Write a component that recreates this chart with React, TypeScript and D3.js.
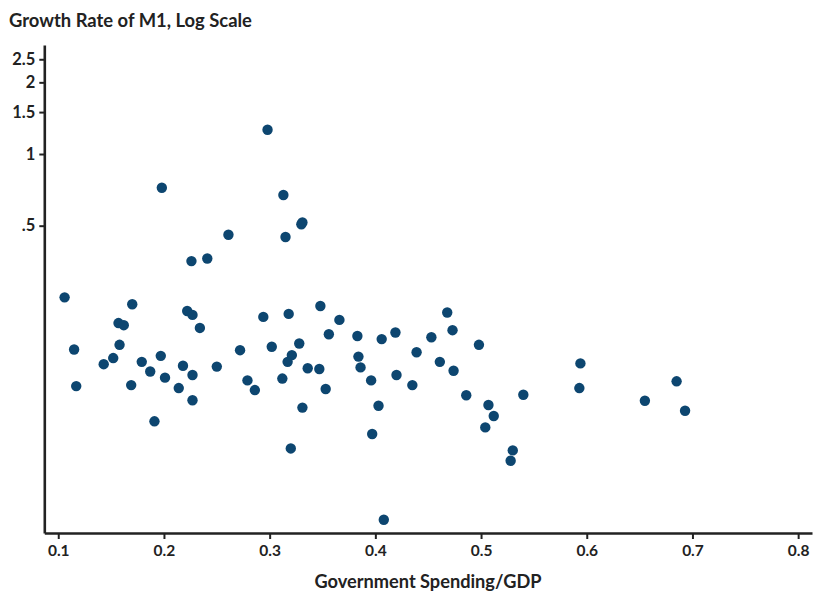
import React, { useRef, useEffect } from 'react';
import * as d3 from 'd3';

// Government spending / GDP (x) vs growth rate of M1 (y, log scale)
const govSpending = [
  0.106, 0.115, 0.117, 0.143, 0.152, 0.158, 0.157, 0.162, 0.170, 0.169,
  0.179, 0.187, 0.197, 0.201, 0.191, 0.214, 0.218, 0.227, 0.227, 0.222,
  0.227, 0.234, 0.226, 0.241, 0.250, 0.272, 0.279, 0.286, 0.294, 0.302,
  0.318, 0.312, 0.321, 0.317, 0.320, 0.328, 0.331, 0.336, 0.347, 0.348,
  0.366, 0.356, 0.353, 0.383, 0.384, 0.386, 0.396, 0.403, 0.397, 0.408,
  0.406, 0.419, 0.420, 0.439, 0.435, 0.453, 0.461, 0.468, 0.473, 0.474,
  0.498, 0.486, 0.507, 0.512, 0.504, 0.530, 0.528, 0.540, 0.594, 0.593,
  0.655, 0.685, 0.693, 0.298, 0.198, 0.313, 0.330, 0.331, 0.315, 0.261,
];
const m1Growth = [
  0.250, 0.151, 0.106, 0.131, 0.139, 0.158, 0.195, 0.191, 0.234, 0.107,
  0.134, 0.122, 0.142, 0.115, 0.0754, 0.104, 0.129, 0.118, 0.0924, 0.219,
  0.211, 0.186, 0.355, 0.364, 0.128, 0.150, 0.112, 0.102, 0.207, 0.155,
  0.213, 0.114, 0.143, 0.134, 0.058, 0.160, 0.0861, 0.126, 0.125, 0.230,
  0.201, 0.175, 0.103, 0.172, 0.141, 0.127, 0.112, 0.0876, 0.0667, 0.0291,
  0.167, 0.178, 0.118, 0.147, 0.107, 0.170, 0.134, 0.216, 0.182, 0.123,
  0.158, 0.097, 0.0883, 0.0794, 0.0711, 0.0569, 0.0515, 0.0975, 0.132, 0.104,
  0.092, 0.111, 0.0835, 1.265, 0.722, 0.673, 0.507, 0.516, 0.448, 0.458,
];
const xTicks = [0.1, 0.2, 0.3, 0.4, 0.5, 0.6, 0.7, 0.8];
const yTicks = [0.5, 1, 1.5, 2, 2.5];
const yTickLabels = ['.5', '1', '1.5', '2', '2.5'];

function App() {
  const ref = useRef<SVGSVGElement>(null);

  useEffect(() => {
    const width = 815;
    const height = 594;
    const svg = d3.select(ref.current);
    svg.selectAll('*').remove();

    const x = d3.scaleLinear().domain([0.0868, 0.8131]).range([44.3, 812]);
    const y = d3.scaleLog().domain([0.0256, 2.87]).range([533, 45]);

    const font = 'Lato, "Open Sans", sans-serif';
    const ink = '#222';

    svg.append('text')
      .attr('x', 9)
      .attr('y', 27)
      .attr('font-family', font)
      .attr('font-size', 18.4)
      .attr('font-weight', 'bold')
      .attr('fill', ink)
      .text('Growth Rate of M1, Log Scale');

    // x axis
    const gx = svg.append('g')
      .attr('transform', 'translate(0,533)')
      .call(d3.axisBottom(x).tickValues(xTicks).tickSize(6).tickSizeOuter(0).tickPadding(6).tickFormat(d3.format('.1f')));
    gx.select('.domain').attr('stroke', ink).attr('stroke-width', 2.6);
    gx.selectAll('.tick line').attr('stroke', ink).attr('stroke-width', 2);
    gx.selectAll('.tick text')
      .attr('font-family', font)
      .attr('font-size', 15.5)
      .attr('font-weight', 'bold')
      .attr('fill', ink);

    // y axis
    const gy = svg.append('g')
      .attr('transform', 'translate(44.3,0)')
      .call(d3.axisLeft(y).tickValues(yTicks).tickSize(5).tickSizeOuter(0).tickPadding(4)
        .tickFormat((d, i) => yTickLabels[i]));
    gy.select('.domain').attr('stroke', ink).attr('stroke-width', 2.6);
    gy.selectAll('.tick line').attr('stroke', ink).attr('stroke-width', 2);
    gy.selectAll('.tick text')
      .attr('font-family', font)
      .attr('font-size', 16.5)
      .attr('font-weight', 'bold')
      .attr('fill', ink);

    svg.append('text')
      .attr('x', 428)
      .attr('y', 588)
      .attr('text-anchor', 'middle')
      .attr('font-family', font)
      .attr('font-size', 18.2)
      .attr('font-weight', 'bold')
      .attr('fill', ink)
      .text('Government Spending/GDP');

    const data = govSpending.map((g, i) => ({ g, m: m1Growth[i] }));
    svg.append('g')
      .selectAll('circle')
      .data(data)
      .enter().append('circle')
      .attr('cx', d => x(d.g))
      .attr('cy', d => y(d.m))
      .attr('r', 5.2)
      .attr('fill', '#0d4670');

    svg.attr('width', width).attr('height', height);
  }, []);

  return (
    <svg ref={ref} width={815} height={594}
      style={{ position: 'absolute', left: 0, top: 0, background: '#fff' }} />
  );
}

export default App;
